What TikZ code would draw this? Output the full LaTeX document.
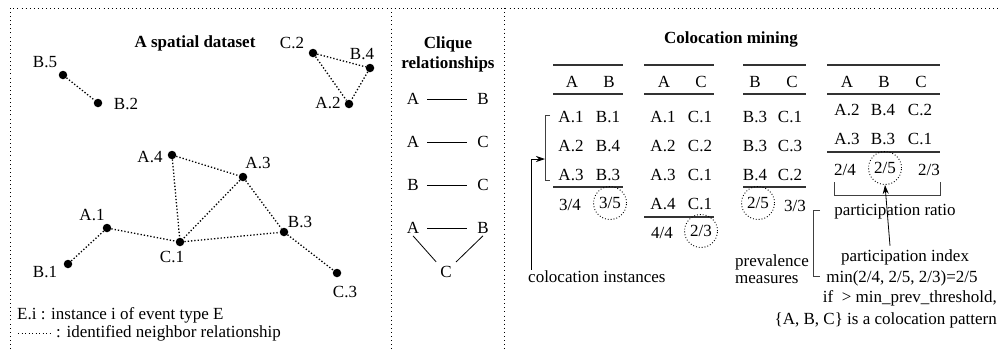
\documentclass[tikz,border=0pt]{standalone}
\usepackage{fontspec}
\setmainfont{Liberation Serif}
\usetikzlibrary{arrows.meta, positioning}

\begin{document}
\begin{tikzpicture}[
    x=1pt, y=-1pt,
    every node/.style={font=\fontsize{17}{18}\selectfont},
    ev/.style={circle, fill=black, inner sep=0pt, minimum size=8.5pt},
    nbr/.style={line width=1.3pt, dash pattern=on 1.3pt off 2pt},
    legdot/.style={line width=0.9pt, dash pattern=on 0.9pt off 2.6pt},
    panel/.style={line width=0.9pt, dash pattern=on 0.9pt off 3.2pt},
    cell/.style={inner sep=1pt},
    hrule/.style={line width=1.3pt, black!80},
    brk/.style={line width=0.9pt, black!75},
    arr/.style={line width=0.8pt, -{Stealth[length=9pt,width=6pt]}},
    pr/.style={circle, draw, dotted, line width=0.9pt, minimum size=33pt, inner sep=0pt},
    title/.style={font=\fontsize{17}{20}\selectfont\bfseries, align=center}
]
\useasboundingbox (0,0) rectangle (999,349);

% panels
\draw[panel] (10,349) -- (10,8) -- (999,8);
\draw[panel] (391,8) -- (391,349);
\draw[panel] (504,8) -- (504,349);

% spatial dataset
\node[title] (dstitle) at (195,43) {A spatial dataset};

\node[ev] (b5) at (63,75) {};
\node[ev] (b2) at (98,103) {};
\node[ev] (c2) at (313,53) {};
\node[ev] (b4) at (370,68) {};
\node[ev] (a2) at (349,104) {};
\node[ev] (a4) at (172,155) {};
\node[ev] (a3) at (243,177) {};
\node[ev] (a1) at (107,228) {};
\node[ev] (c1) at (180,242) {};
\node[ev] (b3) at (284,232) {};
\node[ev] (b1) at (68,264) {};
\node[ev] (c3) at (337,273) {};

\node (lb5) at (45,62) {B.5};
\node (lb2) at (126,104) {B.2};
\node (lc2) at (292,43) {C.2};
\node (lb4) at (362,54) {B.4};
\node (la2) at (328,103) {A.2};
\node (la4) at (150,157) {A.4};
\node (la3) at (258,163) {A.3};
\node (la1) at (92,215) {A.1};
\node (lc1) at (172,257) {C.1};
\node (lb3) at (300,222) {B.3};
\node (lb1) at (45,272) {B.1};
\node (lc3) at (345,292) {C.3};

\foreach \u/\v in {b5/b2, c2/b4, c2/a2, b4/a2, a4/a3, a4/c1, a3/c1, a3/b3, a1/c1, a1/b1, c1/b3, b3/c3}
    \draw[nbr] (\u) -- (\v);

% legend
\node[anchor=west, inner sep=0pt] (leg1) at (17,315) {E.i : instance i of event type E};
\coordinate (lgs) at (18,333);
\coordinate (lge) at (52,333);
\draw[legdot] (lgs) -- (lge);
\node[anchor=west, inner sep=0pt] (leg2) at (56,333) {: identified neighbor relationship};

% clique relationships
\node[title] (cqtitle) at (448,54) {Clique\\relationships};
\tikzset{cq/.style={inner sep=2pt}, cqline/.style={line width=0.8pt, shorten <=6pt, shorten >=8pt}}
\node[cq] (ca1) at (413,99) {A};
\node[cq] (cb1) at (483,99) {B};
\node[cq] (ca2) at (413,142) {A};
\node[cq] (cc2) at (483,142) {C};
\node[cq] (cb3) at (413,185) {B};
\node[cq] (cc3) at (483,185) {C};
\node[cq] (ca4) at (413,228) {A};
\node[cq] (cb4) at (483,228) {B};
\node[cq] (cc4) at (446,272) {C};
\draw[cqline] (ca1) -- (cb1);
\draw[cqline] (ca2) -- (cc2);
\draw[cqline] (cb3) -- (cc3);
\draw[cqline] (ca4) -- (cb4);
\draw[line width=0.8pt, shorten >=3pt] (ca4.south) -- (cc4.north west);
\draw[line width=0.8pt, shorten >=3pt] (cb4.south) -- (cc4.north east);

% colocation mining
\node[title] (cmtitle) at (731,39) {Colocation mining};

% table A B
\draw[hrule] (553,65) -- (623,65);
\draw[hrule] (553,94) -- (623,94);
\draw[hrule] (553,187) -- (623,187);
\node[cell] (abh1) at (572,82) {A};
\node[cell] (abh2) at (609,82) {B};
\foreach \p/\q [count=\i] in {A.1/B.1, A.2/B.4, A.3/B.3} {
    \node[cell] (ab\i a) at (571,88+29*\i) {\p};
    \node[cell] (ab\i b) at (608,88+29*\i) {\q};
}
\node[cell] (abf) at (570,205) {3/4};
\node[pr] (abpr) at (610,203) {3/5};

% table A C
\draw[hrule] (644,65) -- (714,65);
\draw[hrule] (644,94) -- (714,94);
\draw[hrule] (644,217) -- (714,217);
\node[cell] (ach1) at (664,82) {A};
\node[cell] (ach2) at (701,82) {C};
\foreach \p/\q [count=\i] in {A.1/C.1, A.2/C.2, A.3/C.1, A.4/C.1} {
    \node[cell] (ac\i a) at (663,88+29*\i) {\p};
    \node[cell] (ac\i c) at (700,88+29*\i) {\q};
}
\node[cell] (acf) at (662,233) {4/4};
\node[pr] (acpr) at (701,231) {2/3};

% table B C
\draw[hrule] (743,65) -- (806,65);
\draw[hrule] (743,94) -- (806,94);
\draw[hrule] (743,187) -- (806,187);
\node[cell] (bch1) at (755,82) {B};
\node[cell] (bch2) at (792,82) {C};
\foreach \p/\q [count=\i] in {B.3/C.1, B.3/C.3, B.4/C.2} {
    \node[cell] (bc\i b) at (755,88+29*\i) {\p};
    \node[cell] (bc\i c) at (790,88+29*\i) {\q};
}
\node[pr] (bcpr) at (758,203) {2/5};
\node[cell] (bcf) at (795,206) {3/3};

% table A B C
\draw[hrule] (827,65) -- (940,65);
\draw[hrule] (827,94) -- (940,94);
\draw[hrule] (827,152) -- (940,152);
\node[cell] (abch1) at (847,82) {A};
\node[cell] (abch2) at (884,82) {B};
\node[cell] (abch3) at (921,82) {C};
\foreach \p/\q/\r [count=\i] in {A.2/B.4/C.2, A.3/B.3/C.1} {
    \node[cell] (abc\i a) at (847,81+29*\i) {\p};
    \node[cell] (abc\i b) at (883,81+29*\i) {\q};
    \node[cell] (abc\i c) at (920,81+29*\i) {\r};
}
\node[cell] (abcf1) at (845,170) {2/4};
\node[pr] (abcpr) at (885,168) {2/5};
\node[cell] (abcf3) at (929,170) {2/3};

% colocation instances
\draw[brk] (550,115) -- (545,115) -- (545,180) -- (550,180);
\coordinate (inst) at (545,159);
\node[anchor=west, inner sep=1pt] (cinst) at (527,277) {colocation instances};
\draw[arr] ([xshift=4pt]cinst.north west) |- (inst);

% prevalence measures
\draw[brk] (820,210) -- (813,210) -- (813,276) -- (820,276);
\node[anchor=west, inner sep=0pt, align=left, font=\fontsize{17}{17}\selectfont] (prev) at (735,269) {prevalence\\measures};

% participation ratio / index
\draw[brk] (834,182) -- (834,195) -- (940,195) -- (940,182);
\node (pratio) at (895,212) {participation ratio};
\node (pidx) at (905,257) {participation index};
\node (pmin) at (902,278) {min(2/4, 2/5, 2/3)=2/5};
\node[anchor=east, inner sep=0pt] (pif) at (997,298) {if \ > min\_prev\_threshold,};
\node[anchor=east, inner sep=0pt] (ppat) at (997,320) {\{A, B, C\} is a colocation pattern};
\draw[arr] ([xshift=-15pt]pidx.north) -- (abcpr.south);

\end{tikzpicture}
\end{document}
